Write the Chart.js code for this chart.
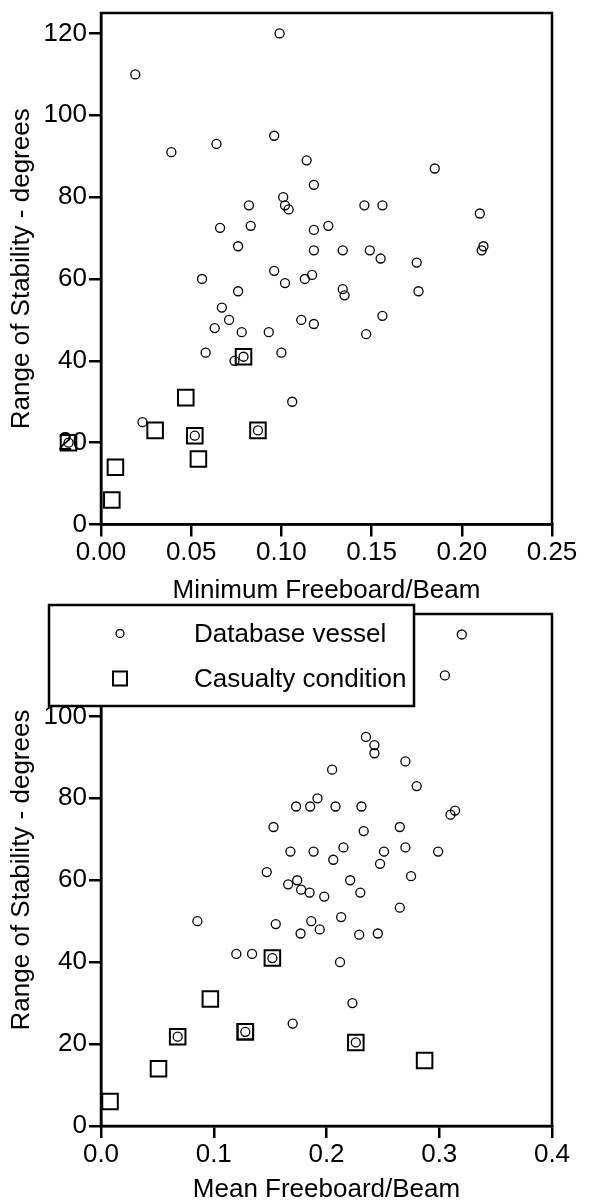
<!DOCTYPE html>
<html lang="en">
<head>
    <meta charset="UTF-8">
    <meta name="viewport" content="width=device-width, initial-scale=1.0">
    <title>Range of Stability vs Freeboard/Beam</title>
    <style>
        html, body { margin: 0; padding: 0; background: #fff; }
        body { width: 594px; height: 1203px; position: relative; }
        .box { position: absolute; left: 0; width: 594px; }
        #boxMin { top: 0; height: 604px; }
        #boxMean { top: 601px; height: 602px; }
    </style>
</head>
<body>
    <div class="box" id="boxMin"><canvas id="chartMin"></canvas></div>
    <div class="box" id="boxMean"><canvas id="chartMean"></canvas></div>

    <script src="https://cdn.jsdelivr.net/npm/chart.js"></script>

    <script>
        // series names
        const seriesNames = ['Database vessel', 'Casualty condition'];

        // tick values (the lower chart's 120 sits under the legend)
        const minYTicks = [0, 20, 40, 60, 80, 100, 120];
        const meanYTicks = [0, 20, 40, 60, 80, 100];
        const minTicks = [0, 0.05, 0.10, 0.15, 0.20, 0.25];
        const meanTicks = [0, 0.1, 0.2, 0.3, 0.4];

        // top chart: minimum freeboard/beam
        const minVesselX = [0.099, 0.019, 0.039, 0.064, 0.096, 0.114, 0.185, 0.118, 0.101, 0.102,
            0.104, 0.082, 0.146, 0.156, 0.210, 0.066, 0.083, 0.126, 0.118, 0.076,
            0.118, 0.134, 0.149, 0.155, 0.175, 0.212, 0.211, 0.056, 0.096, 0.102,
            0.113, 0.117, 0.076, 0.134, 0.135, 0.176, 0.067, 0.071, 0.063, 0.078,
            0.093, 0.111, 0.118, 0.147, 0.156, 0.058, 0.100, 0.074, 0.079, 0.106,
            0.023, 0.052, 0.087, -0.018];
        const minVesselY = [120, 110, 91, 93, 95, 89, 87, 83, 80, 78,
            77, 78, 78, 78, 76, 72.5, 73, 73, 72, 68,
            67, 67, 67, 65, 64, 68, 67, 60, 62, 59,
            60, 61, 57, 57.5, 56, 57, 53, 50, 48, 47,
            47, 50, 49, 46.5, 51, 42, 42, 40, 41, 30,
            25, 21.7, 23, 20];
        const minCasualtyX = [0.079, 0.052, 0.087, -0.018, 0.047, 0.030, 0.054, 0.008, 0.006];
        const minCasualtyY = [41, 21.7, 23, 20, 31, 23, 16, 14, 6];

        // bottom chart: mean freeboard/beam
        const meanVesselX = [0.320, 0.305, 0.235, 0.2425, 0.2425, 0.270, 0.205, 0.280, 0.192, 0.173,
            0.1855, 0.208, 0.231, 0.310, 0.314, 0.153, 0.265, 0.233, 0.168, 0.1885,
            0.215, 0.251, 0.270, 0.299, 0.206, 0.2475, 0.147, 0.174, 0.221, 0.275,
            0.166, 0.1775, 0.185, 0.198, 0.230, 0.265, 0.0855, 0.155, 0.1865, 0.213,
            0.194, 0.177, 0.229, 0.2455, 0.120, 0.134, 0.152, 0.212, 0.223, 0.170,
            0.068, 0.128, 0.226];
        const meanVesselY = [120, 110, 95, 93, 91, 89, 87, 83, 80, 78,
            78, 78, 78, 76, 77, 73, 73, 72, 67, 67,
            68, 67, 68, 67, 65, 64, 62, 60, 60, 61,
            59, 57.7, 57, 56, 57, 53.3, 50, 49.3, 50, 51,
            48, 47, 46.7, 47, 42, 42, 41, 40, 30, 25,
            21.8, 23, 20.4];
        const meanCasualtyX = [0.152, 0.068, 0.128, 0.226, 0.097, 0.128, 0.287, 0.051, 0.008];
        const meanCasualtyY = [41, 21.8, 23, 20.4, 31, 23, 16, 14, 6];

        const FONT = '"Liberation Sans", Arial, sans-serif';
        Chart.defaults.font.family = FONT;
        Chart.defaults.font.size = 26;
        Chart.defaults.color = '#000';

        function pts(xs, ys) {
            return xs.map((x, i) => ({ x: x, y: ys[i] }));
        }

        // box round the plot area
        const framePlugin = {
            id: 'frame',
            beforeDatasetsDraw(chart) {
                const a = chart.chartArea;
                const ctx = chart.ctx;
                ctx.save();
                ctx.strokeStyle = '#000';
                ctx.lineWidth = 2.5;
                ctx.strokeRect(a.left, a.top, a.right - a.left, a.bottom - a.top);
                ctx.restore();
            }
        };

        // Chart.js skips points outside the chart area even with clip off;
        // the negative freeboard case sits left of the y axis, so draw those here
        const outsidePoints = {
            id: 'outsidePoints',
            afterDatasetsDraw(chart) {
                const a = chart.chartArea;
                const ctx = chart.ctx;
                const wide = { left: 0, top: 0, right: chart.width, bottom: chart.height };
                chart.getSortedVisibleDatasetMetas().forEach(meta => {
                    meta.data.forEach(el => {
                        const m = el.size() / 2;
                        const inside = el.x > a.left - m && el.x < a.right + m &&
                            el.y > a.top - m && el.y < a.bottom + m;
                        if (!inside) {
                            ctx.save();
                            el.draw(ctx, wide);
                            ctx.restore();
                        }
                    });
                });
            }
        };

        // boxed legend, sits over the top-left of the lower chart
        const legendBox = {
            id: 'legendBox',
            afterDraw(chart) {
                const ctx = chart.ctx;
                const rows = [32.5, 77.5];
                ctx.save();
                ctx.fillStyle = '#fff';
                ctx.fillRect(49, 4, 365, 101);
                ctx.strokeStyle = '#000';
                ctx.lineWidth = 2.5;
                ctx.strokeRect(49, 4, 365, 101);
                chart.data.datasets.forEach((ds, i) => {
                    const y = rows[i];
                    ctx.beginPath();
                    if (ds.pointStyle === 'rect') {
                        ctx.lineWidth = 2;
                        ctx.rect(113, y - 7, 14, 14);
                    } else {
                        ctx.lineWidth = 1.3;
                        ctx.arc(120, y, 4, 0, Math.PI * 2);
                    }
                    ctx.stroke();
                    ctx.fillStyle = '#000';
                    ctx.font = '26px ' + FONT;
                    ctx.textBaseline = 'middle';
                    ctx.textAlign = 'left';
                    ctx.fillText(ds.label, 194, y + 1);
                });
                ctx.restore();
            }
        };

        function axisStyle() {
            return {
                grid: { drawOnChartArea: false, drawTicks: true, tickLength: 12, color: '#000', lineWidth: 2.5 },
                border: { color: '#000', width: 2.5 }
            };
        }

        function makeChart(id, vessels, casualties, xTicks, decimals, xTitle, yTicks, topPad, xAxisH, extraPlugins) {
            return new Chart(document.getElementById(id), {
                type: 'scatter',
                data: {
                    datasets: [{
                        label: seriesNames[0],
                        data: vessels,
                        pointStyle: 'circle',
                        pointRadius: 4.5,
                        borderWidth: 1.3,
                        borderColor: '#000',
                        backgroundColor: 'rgba(0,0,0,0)',
                        clip: false
                    }, {
                        label: seriesNames[1],
                        data: casualties,
                        pointStyle: 'rect',
                        pointRadius: 11,
                        borderWidth: 2,
                        borderColor: '#000',
                        backgroundColor: 'rgba(0,0,0,0)',
                        clip: false
                    }]
                },
                options: {
                    responsive: true,
                    maintainAspectRatio: false,
                    animation: false,
                    events: [],
                    layout: { padding: { top: topPad, right: 42, bottom: 0, left: 0 } },
                    plugins: { legend: { display: false }, tooltip: { enabled: false } },
                    scales: {
                        x: Object.assign(axisStyle(), {
                            type: 'linear',
                            min: xTicks[0],
                            max: xTicks[xTicks.length - 1],
                            afterBuildTicks: s => { s.ticks = xTicks.map(v => ({ value: v })); },
                            afterFit: s => { s.height = xAxisH; s.paddingLeft = 0; s.paddingRight = 0; },
                            ticks: { padding: 1, maxRotation: 0, autoSkip: false, callback: v => Number(v).toFixed(decimals) },
                            title: { display: true, text: xTitle, font: { size: 26, lineHeight: 1 }, padding: { top: 0, bottom: 0 } }
                        }),
                        y: Object.assign(axisStyle(), {
                            type: 'linear',
                            min: 0,
                            max: 125,
                            afterBuildTicks: s => { s.ticks = yTicks.map(v => ({ value: v })); },
                            afterFit: s => { s.width = 101; s.paddingTop = 0; s.paddingBottom = 0; },
                            ticks: { padding: 2 },
                            title: { display: true, text: 'Range of Stability - degrees', padding: { top: 6, bottom: 0 } }
                        })
                    }
                },
                plugins: [framePlugin, outsidePoints].concat(extraPlugins)
            });
        }

        makeChart('chartMin', pts(minVesselX, minVesselY), pts(minCasualtyX, minCasualtyY),
            minTicks, 2, 'Minimum Freeboard/Beam', minYTicks, 9, 79.5, []);
        makeChart('chartMean', pts(meanVesselX, meanVesselY), pts(meanCasualtyX, meanCasualtyY),
            meanTicks, 1, 'Mean Freeboard/Beam', meanYTicks, 8, 77, [legendBox]);
    </script>
</body>
</html>
